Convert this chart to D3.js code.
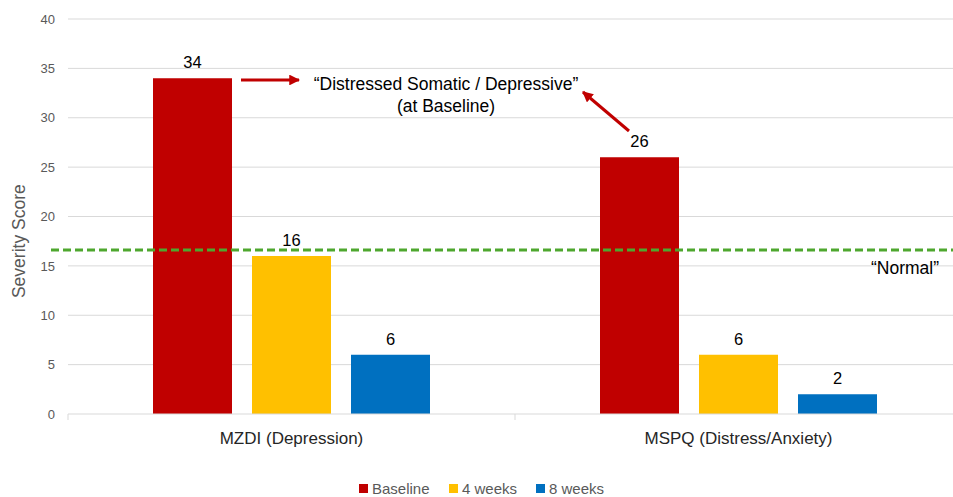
<!DOCTYPE html>
<html>
<head>
<meta charset="utf-8">
<script src="https://cdn.jsdelivr.net/npm/d3@7"></script>
<style>
  html, body { margin: 0; padding: 0; background: #fff; }
  svg { display: block; font-family: "Liberation Sans", Arial, sans-serif; }
</style>
</head>
<body>
<svg id="chart" width="953" height="497"></svg>
<script>
// Severity scores per measure and time point
const categories = ["MZDI (Depression)", "MSPQ (Distress/Anxiety)"];
const seriesNames = ["Baseline", "4 weeks", "8 weeks"];
const baselineValues = [34, 26];
const week4Values = [16, 6];
const week8Values = [6, 2];
const yTicks = [0, 5, 10, 15, 20, 25, 30, 35, 40];
const normalCutoff = 16.6;
const colors = ["#C00000", "#FFC000", "#0070C0"];

const seriesValues = [baselineValues, week4Values, week8Values];
const rows = categories.map((c, i) => ({
  category: c,
  values: seriesNames.map((s, j) => ({ series: s, value: seriesValues[j][i], idx: j }))
}));

const svg = d3.select("#chart");
const W = 953, H = 497;
const plotLeft = 68, plotRight = 962, plotTop = 19, plotBottom = 414;

// Category bands (right edge runs just past the visible area)
const x0 = d3.scaleBand()
  .domain(categories)
  .range([plotLeft, plotRight])
  .paddingInner(0).paddingOuter(0);

// Series within a category band
const x1 = d3.scaleBand()
  .domain(seriesNames)
  .range([85, 362])
  .paddingInner(0.202).paddingOuter(0);

const y = d3.scaleLinear().domain([0, 40]).range([plotBottom, plotTop]);

// Gridlines
svg.append("g")
  .selectAll("line")
  .data(yTicks.filter(t => t > 0))
  .join("line")
  .attr("x1", plotLeft).attr("x2", W)
  .attr("y1", d => y(d)).attr("y2", d => y(d))
  .attr("stroke", "#D9D9D9").attr("stroke-width", 1);

// Y tick labels
const yAxis = svg.append("g")
  .attr("transform", `translate(${plotLeft},0)`)
  .call(d3.axisLeft(y).tickValues(yTicks).tickSize(0).tickPadding(13));
yAxis.select(".domain").remove();
yAxis.selectAll("text")
  .attr("fill", "#595959")
  .style("font-size", "13px");

// Bars
const groups = svg.append("g")
  .selectAll("g")
  .data(rows)
  .join("g")
  .attr("transform", d => `translate(${x0(d.category)},0)`);

groups.selectAll("rect")
  .data(d => d.values)
  .join("rect")
  .attr("x", d => x1(d.series))
  .attr("y", d => y(d.value))
  .attr("width", x1.bandwidth())
  .attr("height", d => y(0) - y(d.value))
  .attr("fill", d => colors[d.idx]);

groups.selectAll("text.val")
  .data(d => d.values)
  .join("text")
  .attr("class", "val")
  .attr("x", d => x1(d.series) + x1.bandwidth() / 2)
  .attr("y", d => y(d.value) - 10)
  .attr("text-anchor", "middle")
  .attr("fill", "#000")
  .style("font-size", "16.5px")
  .text(d => d.value);

// X axis baseline and category labels
const xAxis = svg.append("g")
  .attr("transform", `translate(0,${y(0)})`);
xAxis.append("line")
  .attr("x1", plotLeft).attr("x2", W)
  .attr("stroke", "#D9D9D9").attr("stroke-width", 1);
xAxis.selectAll("line.tick")
  .data([plotLeft, x0(categories[1])])
  .join("line")
  .attr("class", "tick")
  .attr("x1", d => d).attr("x2", d => d)
  .attr("y1", 0).attr("y2", 6)
  .attr("stroke", "#D9D9D9");
xAxis.selectAll("text")
  .data(categories)
  .join("text")
  .attr("x", d => x0(d) + x0.bandwidth() / 2)
  .attr("y", 30)
  .attr("text-anchor", "middle")
  .attr("fill", "#262626")
  .style("font-size", "17px")
  .text(d => d);

// Y axis title
svg.append("text")
  .attr("transform", `translate(25,${y(17.5)}) rotate(-90)`)
  .attr("text-anchor", "middle")
  .attr("fill", "#595959")
  .style("font-size", "17.5px")
  .text("Severity Score");

// "Normal" cut-off line
svg.append("line")
  .attr("x1", 51).attr("x2", W)
  .attr("y1", y(normalCutoff)).attr("y2", y(normalCutoff))
  .attr("stroke", "#4EA72E")
  .attr("stroke-width", 3)
  .attr("stroke-dasharray", "8,4");

svg.append("text")
  .attr("x", 905).attr("y", y(normalCutoff) + 24)
  .attr("text-anchor", "middle")
  .attr("fill", "#000")
  .style("font-size", "17.5px")
  .text("\u201CNormal\u201D");

// Annotation
const ann = svg.append("text")
  .attr("text-anchor", "middle")
  .attr("fill", "#000")
  .style("font-size", "17.5px");
ann.append("tspan").attr("x", 446).attr("y", 90).text("\u201CDistressed Somatic / Depressive\u201D");
ann.append("tspan").attr("x", 446).attr("y", 112).text("(at Baseline)");

const defs = svg.append("defs");
defs.append("marker")
  .attr("id", "arrowhead")
  .attr("viewBox", "0 0 10 10")
  .attr("refX", 9).attr("refY", 5)
  .attr("markerWidth", 3.6).attr("markerHeight", 3.6)
  .attr("markerUnits", "strokeWidth")
  .attr("orient", "auto")
  .append("path")
  .attr("d", "M0,0 L10,5 L0,10 z")
  .attr("fill", "#C00000");

const arrows = [
  { x1: 241, y1: 80, x2: 299, y2: 80 },
  { x1: 629, y1: 131, x2: 583, y2: 92 }
];
svg.append("g")
  .selectAll("line")
  .data(arrows)
  .join("line")
  .attr("x1", d => d.x1).attr("y1", d => d.y1)
  .attr("x2", d => d.x2).attr("y2", d => d.y2)
  .attr("stroke", "#C00000")
  .attr("stroke-width", 3)
  .attr("marker-end", "url(#arrowhead)");

// Legend
const legendX = [359, 449, 536];
const legend = svg.append("g")
  .selectAll("g")
  .data(seriesNames)
  .join("g")
  .attr("transform", (d, i) => `translate(${legendX[i]},484)`);
legend.append("rect")
  .attr("width", 9).attr("height", 9)
  .attr("fill", (d, i) => colors[i]);
legend.append("text")
  .attr("x", 13).attr("y", 10)
  .attr("fill", "#595959")
  .style("font-size", "15px")
  .text(d => d);
</script>
</body>
</html>
